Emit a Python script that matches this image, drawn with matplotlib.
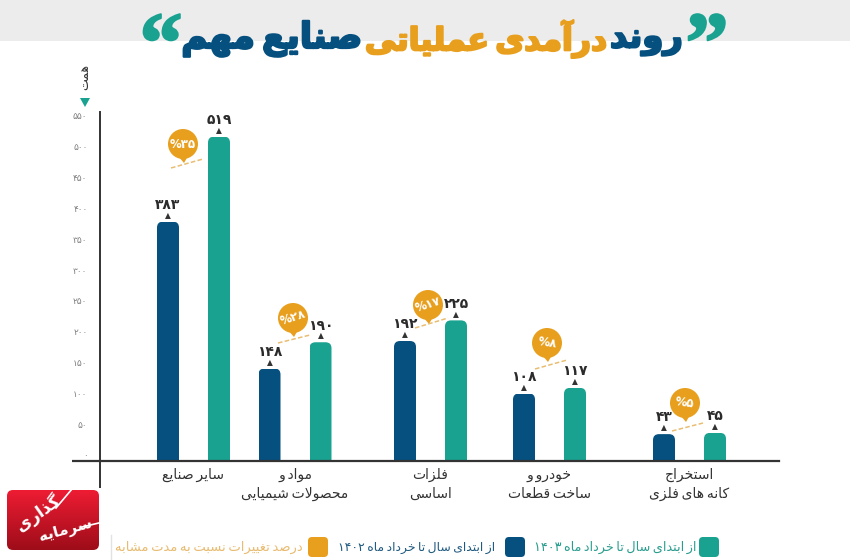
import matplotlib
matplotlib.use("Agg")
import matplotlib.pyplot as plt
import matplotlib.patheffects as pe
import numpy as np
from matplotlib.patches import FancyBboxPatch, Circle, Polygon

plt.rcParams['font.family'] = ['DejaVu Sans']

# ---------- data ----------
categories = [["سایر صنایع"], ["مواد و", "محصولات شیمیایی"], ["فلزات", "اساسی"],
              ["خودرو و", "ساخت قطعات"], ["استخراج", "کانه های فلزی"]]
values_1402 = [383, 148, 192, 108, 43]
values_1403 = [519, 190, 225, 117, 45]
change_pct = [35, 28, 17, 8, 5]
yticks = list(range(0, 551, 50))
title_parts = ["روند", "درآمدی عملیاتی", "صنایع مهم"]
unit = "همت"
legend_labels = ["از ابتدای سال تا خرداد ماه ۱۴۰۳", "از ابتدای سال تا خرداد ماه ۱۴۰۲",
                 "درصد تغییرات نسبت به مدت مشابه"]
logo_words = ["گذاری", "سرمایه"]

# ---------- layout / style ----------
NAVY, TEAL, ORANGE, DARK = "#05507f", "#1aa291", "#e89f1e", "#333333"
centers = [193.5, 295, 430.5, 549.5, 689.5]
navy_dx, teal_dx, bar_w = -25.5, 25.5, 22
badge_xy = [(183, 144), (293, 318), (428, 305), (547, 343), (685, 403)]
badge_rot = [0, 18, 18, -8, -8]
dash_ends = [((171, 168), (203, 159)), ((278, 343), (310, 335)), ((415, 328), (448, 318)),
             ((535, 369), (567, 360)), ((672, 431), (703, 423))]
PX_PER_UNIT = 0.625

# ---------- Persian shaping (presentation forms, visual order) ----------
def _f(i, fi=None, ini=None, me=None):
    return (chr(i), chr(fi) if fi else None, chr(ini) if ini else None, chr(me) if me else None)
def _four(i):
    return _f(i, i + 1, i + 2, i + 3)
FORMS = {'ا': _f(0xFE8D, 0xFE8E), 'آ': _f(0xFE81, 0xFE82), 'ب': _four(0xFE8F), 'پ': _four(0xFB56),
         'ت': _four(0xFE95), 'ث': _four(0xFE99), 'ج': _four(0xFE9D), 'چ': _four(0xFB7A),
         'ح': _four(0xFEA1), 'خ': _four(0xFEA5), 'د': _f(0xFEA9, 0xFEAA), 'ذ': _f(0xFEAB, 0xFEAC),
         'ر': _f(0xFEAD, 0xFEAE), 'ز': _f(0xFEAF, 0xFEB0), 'ژ': _f(0xFB8A, 0xFB8B), 'س': _four(0xFEB1),
         'ش': _four(0xFEB5), 'ص': _four(0xFEB9), 'ض': _four(0xFEBD), 'ط': _four(0xFEC1),
         'ظ': _four(0xFEC5), 'ع': _four(0xFEC9), 'غ': _four(0xFECD), 'ف': _four(0xFED1),
         'ق': _four(0xFED5), 'ک': _four(0xFB8E), 'گ': _four(0xFB92), 'ل': _four(0xFEDD),
         'م': _four(0xFEE1), 'ن': _four(0xFEE5), 'و': _f(0xFEED, 0xFEEE), 'ه': _four(0xFEE9),
         'ی': _four(0xFBFC)}
DIGITS = "۰۱۲۳۴۵۶۷۸۹"

def fa_num(n):
    return "".join(DIGITS[int(c)] for c in str(n))

def shape(s, tight=False):
    s = s.replace("لا", "\uE000")
    out, prev_joins = [], False
    for i, c in enumerate(s):
        nxt = s[i + 1] if i + 1 < len(s) else ""
        if c == "\uE000":
            out.append(chr(0xFEFC) if prev_joins else chr(0xFEFB))
            prev_joins = False
            continue
        if c not in FORMS:
            out.append("\u2009" if (tight and c == " ") else c)
            prev_joins = False
            continue
        iso, fin, ini, med = FORMS[c]
        next_ok = (nxt in FORMS or nxt == "\uE000") and ini is not None
        if prev_joins and next_ok:
            out.append(med)
        elif prev_joins:
            out.append(fin)
        elif next_ok:
            out.append(ini)
        else:
            out.append(iso)
        prev_joins = ini is not None and next_ok
    res, i = [], 0
    while i < len(out):
        j = i
        while j < len(out) and out[j] in DIGITS:
            j += 1
        if j > i:
            res.append("".join(out[i:j]))
            i = j
        else:
            res.append(out[i])
            i += 1
    return "".join(reversed(res))

# ---------- figure ----------
fig = plt.figure(figsize=(8.5, 5.6), dpi=100)
W, H = 850, 560
px = fig.add_axes([0, 0, 1, 1], zorder=0)
px.set_xlim(0, W); px.set_ylim(H, 0); px.axis("off")
top = fig.add_axes([0, 0, 1, 1], zorder=5)
top.set_xlim(0, W); top.set_ylim(H, 0); top.axis("off"); top.patch.set_alpha(0)

px.fill_between([0, W], 0, 41, color="#ececec", lw=0)

def fit_text(axx, s, xl, xr, y, color, weight="normal", size=10, stroke=0):
    t = axx.text((xl + xr) / 2, y, s, ha="center", va="center", color=color, fontweight=weight, fontsize=size)
    r = fig.canvas.get_renderer()
    w = t.get_window_extent(r).width
    t.set_fontsize(size * (xr - xl) / w)
    if stroke:
        t.set_path_effects([pe.withStroke(linewidth=stroke, foreground=color)])
    return t

# title
fit_text(top, shape(title_parts[0], True), 610, 683, 39, NAVY, "bold", 26, 1.6)
fit_text(top, shape(title_parts[1], True), 365, 607, 39, ORANGE, "bold", 26, 1.6)
fit_text(top, shape(title_parts[2], True), 181, 362, 39, NAVY, "bold", 26, 1.6)
for qx, q in ((707, "\u201D"), (161, "\u201C")):
    t = top.text(qx, 51, q, color=TEAL, fontsize=62, fontweight="bold", family="Liberation Serif",
                 ha="center", va="center")
    t.set_path_effects([pe.withStroke(linewidth=1.5, foreground=TEAL)])

# main axes
ax = fig.add_axes([100 / W, (H - 461) / H, (779 - 100) / W, (461 - 112) / H], zorder=2)
ax.patch.set_alpha(0)
ax.set_xlim(100, 779)
ax.set_ylim(0, (461 - 112) / PX_PER_UNIT)
for s in ("top", "right"):
    ax.spines[s].set_visible(False)
ax.spines["left"].set_color(DARK); ax.spines["left"].set_linewidth(1.4)
ax.spines["bottom"].set_color(DARK); ax.spines["bottom"].set_linewidth(1.6)
px.plot([72, 100], [461, 461], color=DARK, lw=1.6, solid_capstyle="butt")
px.plot([100, 100], [461, 488], color=DARK, lw=1.4, solid_capstyle="butt")

x = np.array(centers)
b1 = ax.bar(x + navy_dx, values_1402, bar_w, color=NAVY, lw=0)
b2 = ax.bar(x + teal_dx, values_1403, bar_w, color=TEAL, lw=0)

def px_y(v):
    return 461 - v * PX_PER_UNIT

for bars in (b1, b2):
    for rect in bars:
        xl, v = rect.get_x(), rect.get_height()
        clip = FancyBboxPatch((xl, px_y(v)), bar_w, v * PX_PER_UNIT + 12,
                              boxstyle="round,pad=0,rounding_size=6",
                              transform=px.transData, fc="none", ec="none")
        rect.set_clip_path(clip)

ax.set_yticks([])
ax.set_xticks(x, [("\n".join(shape(l, True) for l in c)) for c in categories])
ax.tick_params(axis="x", length=0, pad=5, labelsize=10, labelcolor="#333333")
for lab in ax.get_xticklabels():
    lab.set_linespacing(1.45)

# y tick labels on their own printed scale (0 sits above the baseline in the original)
ay = ax.twinx()
ay.set_ylim((455 - 461) / 0.6164, (455 - 112) / 0.6164)
ay.yaxis.tick_left()
ay.set_yticks(yticks, [fa_num(t) for t in yticks])
ay.tick_params(axis="y", length=0, pad=9, labelsize=6.5, labelcolor="#808080")
for s in ay.spines.values():
    s.set_visible(False)
ay.patch.set_alpha(0)

# value labels
for xs, vals in ((x + navy_dx, values_1402), (x + teal_dx, values_1403)):
    for xi, v in zip(xs, vals):
        ax.annotate("▲", (xi, v), xytext=(0, 4.5), textcoords="offset points",
                    ha="center", va="center", fontsize=5.5, color=DARK)
        ax.annotate(fa_num(v), (xi, v), xytext=(0, 12), textcoords="offset points",
                    ha="center", va="center", fontsize=10, fontweight="bold", color="#2b2b2b")

# change badges
for (bx, by), rot, pct, (p0, p1) in zip(badge_xy, badge_rot, change_pct, dash_ends):
    top.plot([p0[0], p1[0]], [p0[1], p1[1]], color="#e9bd72", lw=1.1, ls=(0, (3, 1.5)))
    top.add_patch(Circle((bx, by), 15, fc=ORANGE, ec="none"))
    top.add_patch(Polygon([(bx - 5, by + 12), (bx + 5, by + 12), (bx + 1, by + 19)], fc=ORANGE, ec="none"))
    top.text(bx, by, "%" + fa_num(pct), color="white", fontsize=8.5, fontweight="bold",
             ha="center", va="center", rotation=rot)

# unit
top.text(85, 77, shape(unit), rotation=90, ha="center", va="center", fontsize=9, color="#333333")
top.add_patch(Polygon([(80, 98), (90, 98), (85, 107)], fc=TEAL, ec="none"))

# legend
def swatch(xl, color):
    top.add_patch(FancyBboxPatch((xl, 537), 20, 20, boxstyle="round,pad=0,rounding_size=4", fc=color, ec="none"))
swatch(699, TEAL); swatch(505, NAVY); swatch(308, ORANGE)
fit_text(top, shape(legend_labels[0], True), 534, 696, 547, "#2a9d8f", size=8)
fit_text(top, shape(legend_labels[1], True), 338, 495, 547, "#1f5a80", size=8)
fit_text(top, shape(legend_labels[2], True), 115, 302, 547, "#e8bb70", size=8)
top.plot([111, 111], [535, 559], color="#e2e2e2", lw=1)

# logo
grad = np.linspace(0, 1, 64).reshape(-1, 1)
c0, c1 = np.array([0.93, 0.11, 0.20]), np.array([0.62, 0.05, 0.10])
img = (c0[None, None, :] * (1 - grad[..., None]) + c1[None, None, :] * grad[..., None])
logo = top.imshow(img, extent=(7, 99, 550, 490), aspect="auto", zorder=1)
logo.set_clip_path(FancyBboxPatch((7, 490), 92, 60, boxstyle="round,pad=0,rounding_size=6",
                                  transform=top.transData, fc="none", ec="none"))
top.set_xlim(0, W); top.set_ylim(H, 0)
top.text(38, 513, shape(logo_words[0]), color="white", fontsize=12, fontweight="bold", ha="center",
         va="center", rotation=35, zorder=3)
top.text(66, 530, shape(logo_words[1]), color="white", fontsize=11, fontweight="bold", ha="center",
         va="center", rotation=15, zorder=3)
top.plot([56, 72], [508, 489], color="white", lw=1.2, zorder=3)
top.plot([82, 103], [527, 522], color="white", lw=1.2, zorder=3)

fig.savefig("out.png", dpi=100)
